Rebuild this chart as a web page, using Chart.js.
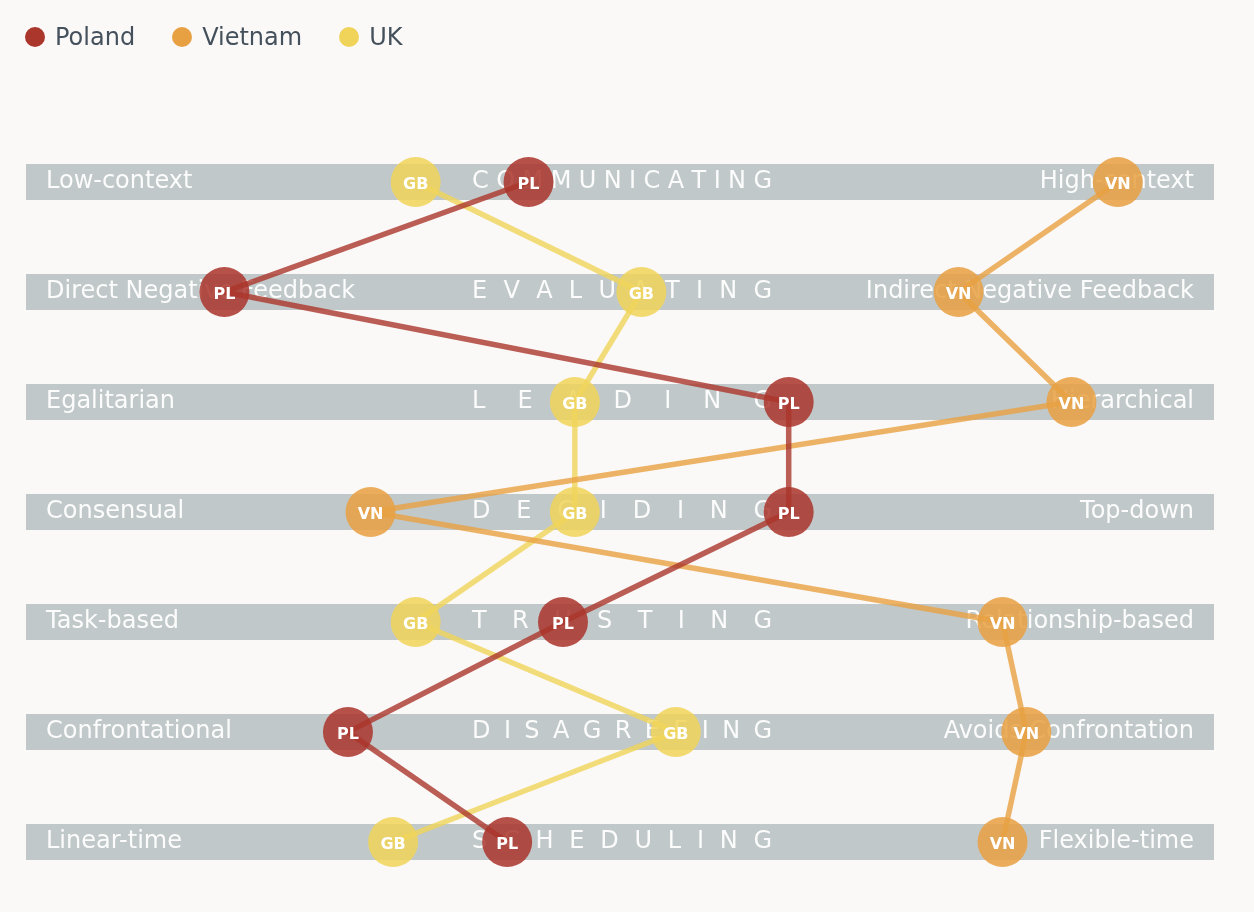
<!DOCTYPE html>
<html>
<head>
<meta charset="utf-8">
<script src="https://cdn.jsdelivr.net/npm/chart.js@4.4.1/dist/chart.umd.min.js"></script>
<style>
html, body { margin: 0; padding: 0; background: #fbf9f8; }
#wrap { position: relative; width: 1254px; height: 912px; }
#myChart { display: block; }
#legend { position: absolute; left: 25px; top: 22px; display: flex; font-family: 'DejaVu Sans'; font-size: 24px; color: #44505b; }
.item { display: flex; align-items: center; margin-right: 37px; line-height: 30px; }
.dot { width: 20px; height: 20px; border-radius: 50%; margin-right: 10px; }
</style>
</head>
<body>
<div id="wrap">
  <canvas id="myChart" width="1254" height="912"></canvas>
  <div id="legend"></div>
</div>
<script>
// series
var countries = ['Poland', 'Vietnam', 'UK']
var codes = ['PL', 'VN', 'GB']
var colors = ['170, 54, 44', '232, 161, 66', '240, 212, 90'] // rgb
// scales (rows)
var leftLabels = ['Low-context', 'Direct Negative Feedback', 'Egalitarian', 'Consensual', 'Task-based', 'Confrontational', 'Linear-time']
var scaleNames = ['COMMUNICATING', 'EVALUATING', 'LEADING', 'DECIDING', 'TRUSTING', 'DISAGREEING', 'SCHEDULING']
var rightLabels = ['High-context', 'Indirect Negative Feedback', 'Hierarchical', 'Top-down', 'Relationship-based', 'Avoids Confrontation', 'Flexible-time']
// position on each scale, 0 = left end, 100 = right end
var poland = [42.3, 16.7, 64.2, 64.2, 45.2, 27.1, 40.5]
var vietnam = [91.9, 78.5, 88.0, 29.0, 82.2, 84.2, 82.2]
var uk = [32.8, 51.8, 46.2, 46.2, 32.8, 54.7, 30.9]
var values = [poland, vietnam, uk]

//legend html
var leg = document.getElementById('legend')
countries.forEach(function (c, i) {
    leg.innerHTML += '<div class="item"><span class="dot" style="background:rgb(' + colors[i] + ')"></span>' + c + '</div>'
})

var bandFont = "24px 'DejaVu Sans'"

//bands + labels under the lines
const bands = {
    id: 'bands',
    beforeDatasetsDraw(chart) {
        var ctx = chart.ctx
        var x = chart.scales.x
        var y = chart.scales.y
        var x0 = x.getPixelForValue(0)
        var x1 = x.getPixelForValue(100)
        ctx.save()
        for (var i = 0; i < scaleNames.length; i++) {
            var yc = y.getPixelForValue(i)
            ctx.fillStyle = '#c1c8c9'
            ctx.fillRect(x0, yc - 18, x1 - x0, 36)
            ctx.fillStyle = 'rgba(255,255,255,0.95)'
            ctx.font = bandFont
            ctx.textBaseline = 'middle'
            ctx.textAlign = 'left'
            ctx.fillText(leftLabels[i], x0 + 20, yc)
            ctx.textAlign = 'right'
            ctx.fillText(rightLabels[i], x1 - 20, yc)
            // spaced out scale name
            ctx.textAlign = 'left'
            var s = x.getPixelForValue(37.55)
            var e = x.getPixelForValue(62.8)
            var letters = scaleNames[i].split('')
            var tot = 0
            letters.forEach(function (l) { tot += ctx.measureText(l).width })
            var gap = (e - s - tot) / (letters.length - 1)
            var cx = s
            letters.forEach(function (l) {
                ctx.fillText(l, cx, yc)
                cx += ctx.measureText(l).width + gap
            })
        }
        ctx.restore()
    },
    afterDatasetsDraw(chart) {
        var ctx = chart.ctx
        ctx.save()
        ctx.fillStyle = '#ffffff'
        ctx.font = "bold 16px 'DejaVu Sans'"
        ctx.textAlign = 'center'
        ctx.textBaseline = 'middle'
        chart.data.datasets.forEach(function (ds, di) {
            chart.getDatasetMeta(di).data.forEach(function (pt) {
                ctx.fillText(codes[di], pt.x, pt.y + 3)
            })
        })
        ctx.restore()
    }
}

var datasets = countries.map(function (c, i) {
    return {
        label: c,
        data: values[i].map(function (v, r) { return { x: v, y: r } }),
        borderColor: 'rgba(' + colors[i] + ', 0.8)',
        borderWidth: 5.5,
        pointRadius: 25,
        pointHoverRadius: 25,
        pointBorderWidth: 0,
        pointBackgroundColor: 'rgba(' + colors[i] + ', 0.86)',
        tension: 0
    }
})

var chart = new Chart(document.getElementById('myChart'), {
    type: 'line',
    data: { datasets: datasets },
    options: {
        responsive: false,
        animation: false,
        events: [],
        layout: { autoPadding: false, padding: { left: 26, right: 40, top: 127, bottom: 15 } },
        plugins: { legend: { display: false }, tooltip: { enabled: false } },
        scales: {
            x: { type: 'linear', min: 0, max: 100, display: false },
            y: { type: 'linear', min: -0.5, max: 6.5, reverse: true, display: false }
        }
    },
    plugins: [bands]
})
</script>
</body>
</html>
